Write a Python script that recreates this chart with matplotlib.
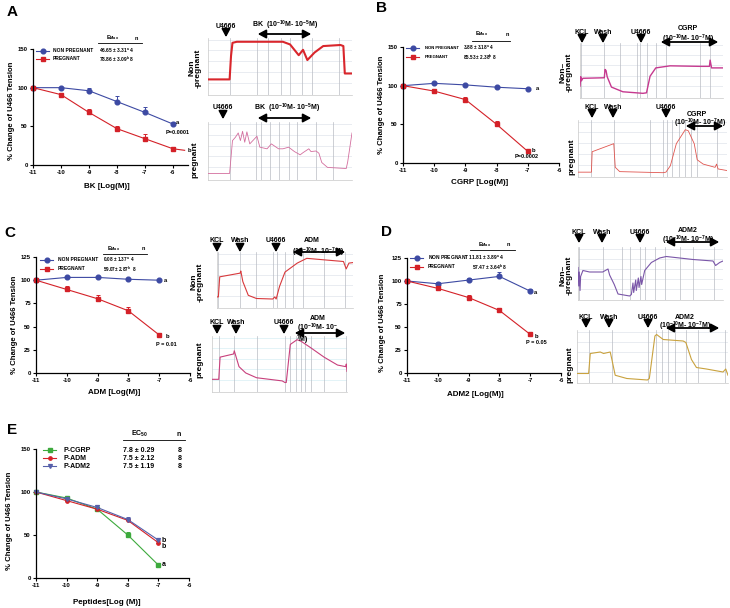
import matplotlib
matplotlib.use('Agg')
import matplotlib.pyplot as plt
from matplotlib.patches import FancyArrowPatch
from matplotlib.lines import Line2D

W, H = 730, 608
plt.rcParams['font.family'] = ['Liberation Sans', 'DejaVu Sans']
plt.rcParams['font.weight'] = 'bold'
plt.rcParams['mathtext.default'] = 'regular'
plt.rcParams['axes.unicode_minus'] = False

# ---------------- data ----------------
doses6 = [-11, -10, -9, -8, -7, -6]
doses5 = [-11, -10, -9, -8, -7]

A_np = [100, 100, 96, 82, 68, 53]
A_np_err = [0, 1, 4, 7, 7, 2]
A_p = [100, 91, 68, 47, 34, 21]
A_p_err = [0, 1, 4, 4, 6, 2]
A_p_tail_x = [-6, -5.58]
A_p_tail_y = [21, 19]

B_np = [100, 103, 101, 98, 96]
B_np_err = [0, 1, 1, 1, 1]
B_p = [100, 93, 82, 50, 15]
B_p_err = [0, 1, 3, 4, 2]

C_np = [100, 103, 103, 101, 100]
C_np_err = [0, 1, 1, 1, 1]
C_p = [100, 90, 80, 67, 41]
C_p_err = [0, 4, 4, 4, 2]

D_np = [100, 97, 101, 105, 89]
D_np_err = [0, 2, 2, 5, 2]
D_p = [100, 92, 82, 68, 42]
D_p_err = [0, 2, 3, 3, 3]

E_cgrp = [100, 93, 80, 50, 15]
E_cgrp_err = [0, 1, 2, 3, 1]
E_adm = [100, 90, 80, 67, 41]
E_adm_err = [0, 1, 2, 2, 2]
E_adm2 = [100, 92, 82, 68, 44]
E_adm2_err = [0, 1, 3, 3, 2]

emax_A = ["46.65 \u00b1 3.31$^{a}$ 4", "78.86 \u00b1 3.09$^{b}$ 8"]
emax_B = ["3.88 \u00b1 3.18$^{a}$ 4", "85.53 \u00b1 2.38$^{b}$ 8"]
emax_C = ["0.08 \u00b1 1.37$^{a}$  4", "59.07\u00b1 2.87$^{b}$  8"]
emax_D = ["11.81 \u00b1 3.89$^{a}$ 4", "57.47 \u00b1 3.64$^{b}$ 8"]
ec50_E = ["7.8 \u00b1 0.29", "7.5 \u00b1 2.12", "7.5 \u00b1 1.19"]
n_E = ["8", "8", "8"]

# recording traces (time %, tension %)
trA_np_t = [0, 15, 16, 17, 20, 52, 57, 63, 66, 69, 74, 80, 92, 94, 95, 100]
trA_np_v = [26, 26, 70, 94, 96, 96, 91, 71, 81, 62, 76, 88, 90, 88, 37, 37]
trA_p_t = [0, 15, 17, 19, 21, 22.5, 24, 25.5, 27, 29, 34, 36, 41, 44, 49, 52, 56, 60, 64, 66,
           70, 71.5, 75, 77, 79, 83, 96, 97, 100]
trA_p_v = [9, 9, 69, 75, 83, 69, 86, 66, 85, 63, 77, 57, 54, 63, 54, 54, 57, 49, 43, 47,
           54, 49, 50, 46, 29, 20, 18, 30, 83]
trB_np_t = [0, 0.5, 1, 2, 17, 17.5, 18.2, 19, 22, 30, 44, 46.5, 49, 53, 63, 84, 90.5, 91, 92, 100]
trB_np_v = [20, 38, 30, 35, 36, 52, 50, 38, 18, 9, 6, 7, 39, 55, 59, 58, 58, 70, 55, 55]
trB_p_t = [0, 9, 9.5, 24, 25, 28, 57, 59, 62, 66, 72, 74, 78, 80, 84, 92, 93, 94, 100]
trB_p_v = [6, 6, 44, 59, 15, 7, 5, 6, 18, 59, 85, 83, 59, 29, 21, 15, 21, 12, 9]
trC_np_t = [0, 1, 2, 17, 17.5, 19, 23, 29, 41, 42.5, 43.5, 46, 50, 59, 66, 93, 95, 97, 100]
trC_np_v = [18, 18, 56, 63, 67, 47, 21, 15, 14, 18, 14, 38, 65, 82, 91, 85, 71, 82, 83]
trC_p_t = [0, 5, 6, 16, 16.5, 20, 25, 33, 52, 54, 55, 58, 63, 66, 73, 83, 93, 99, 99.5, 100]
trC_p_v = [21, 21, 63, 69, 75, 45, 33, 24, 18, 15, 15, 87, 96, 93, 81, 63, 48, 45, 50, 36]
trD_np_t = [0, 0.5, 0.9, 1.4, 1.8, 3.4, 8, 17, 20.7, 21.8, 25, 27.6, 35.6, 36.8, 37.9, 38.4, 39.8,
            40.2, 41.6, 42.1, 43.4, 43.9, 46, 50.6, 56.3, 60.9, 79.3, 93.1, 94.9, 97.7, 100]
trD_np_v = [62, 25, 53, 16, 44, 56, 53, 53, 59, 47, 28, 9, 5, 8, 31, 12, 37,
            16, 41, 22, 44, 28, 56, 72, 81, 84, 78, 75, 66, 72, 75]
trD_p_t = [0, 7.7, 8.8, 15.4, 17.6, 22, 23.1, 25.3, 33, 46.6, 47.9, 51.6, 52.7, 57.1, 70.3, 72.1,
           75.8, 79.1, 85.7, 96.7, 98.5, 100]
trD_p_v = [16, 16, 56, 59, 56, 59, 44, 12.5, 6, 3, 6, 91, 94, 84, 81, 78,
           44, 28, 25, 19, 25, 12.5]

ev_A_np = [15, 34, 42, 51, 57, 65, 72, 91]
ev_A_p = [15, 33, 37, 43, 49, 56, 62, 75, 87]
ev_B_np = [1, 17, 28, 40, 42, 47, 53, 60, 84, 91]
ev_B_p = [9, 24, 48, 57, 60, 63, 68, 72, 76, 80, 93]
ev_C_np = [1, 17, 29, 41, 44, 50, 56, 63, 79, 94]
ev_C_p = [5, 16, 33, 54, 58, 62, 66, 69, 73, 83, 99]
ev_D_np = [1, 17, 30, 36, 43, 46, 53, 60, 70, 79, 94]
ev_D_p = [8, 23, 47, 52, 56, 60, 65, 72, 80, 98]

BLUE = '#3D4AA3'
RED = '#D42128'
GREEN = '#3DAA3D'
BLUE2 = '#5660AA'

fig = plt.figure(figsize=(W / 100, H / 100), dpi=100)
fig.patch.set_facecolor('white')


def P(x, y):
    return (x / W, 1 - y / H)


def T(x, y, s, size, ha='center', va='center', rot=0, **kw):
    fig.text(x / W, 1 - y / H, s, fontsize=size, ha=ha, va=va, rotation=rot,
             fontweight='bold', **kw)


def add_ax(l, t, r, b):
    return fig.add_axes([l / W, 1 - b / H, (r - l) / W, (b - t) / H])


def down_arrow(x, y1, y2):
    fig.add_artist(FancyArrowPatch(P(x, y1), P(x, y2), transform=fig.transFigure,
                                   arrowstyle='-|>,head_length=0.6,head_width=0.32',
                                   mutation_scale=8, lw=1.3, color='black'))


def dbl_arrow(x1, x2, y):
    fig.add_artist(FancyArrowPatch(P(x1, y), P(x2, y), transform=fig.transFigure,
                                   arrowstyle='<|-|>,head_length=0.6,head_width=0.32',
                                   mutation_scale=8, lw=1.3, color='black'))


def legend_row(x, y, color, marker, ms):
    fig.add_artist(Line2D([x / W, (x + 13) / W], [1 - y / H, 1 - y / H],
                          transform=fig.transFigure, color=color, lw=0.8))
    fig.add_artist(Line2D([(x + 6.5) / W], [1 - y / H], transform=fig.transFigure,
                          color=color, marker=marker, ms=ms, lw=0))


def hline(x1, x2, y):
    fig.add_artist(Line2D([x1 / W, x2 / W], [1 - y / H] * 2, transform=fig.transFigure,
                          color='k', lw=0.6))


def dose_panel(box, xlim, ylim, yticks):
    ax = add_ax(*box)
    ax.set_xlim(*xlim)
    ax.set_ylim(*ylim)
    for s in ['top', 'right']:
        ax.spines[s].set_visible(False)
    for s in ['left', 'bottom']:
        ax.spines[s].set_linewidth(0.9)
    ax.set_xticks([-11, -10, -9, -8, -7, -6])
    ax.set_yticks(yticks)
    ax.tick_params(labelsize=4.3, length=2.2, width=0.8, pad=1.5)
    for lab in ax.get_xticklabels() + ax.get_yticklabels():
        lab.set_fontweight('bold')
    ax.patch.set_alpha(0)
    return ax


def series(ax, x, y, err, color, marker, ms):
    ax.errorbar(x, y, yerr=[[0] * len(err), err], color=color, marker=marker, ms=ms,
                lw=0.8, elinewidth=0.7, capsize=1.5, capthick=0.7, clip_on=False)


def trace(box, t, v, ev, color, lw, gridcolor='#D9DDE6'):
    ax = add_ax(*box)
    ax.set_xlim(0, 100)
    ax.set_ylim(-3, 103)
    for yv in [20, 40, 60, 80, 100]:
        ax.axhline(yv, color=gridcolor, lw=0.4, zorder=0)
    for e in ev:
        ax.axvline(e, color='#B9BCC4', lw=0.5, zorder=1)
    ax.plot(t, v, color=color, lw=lw, zorder=3)
    for s in ['top', 'right']:
        ax.spines[s].set_visible(False)
    for s in ['left', 'bottom']:
        ax.spines[s].set_color('#C8C8C8')
        ax.spines[s].set_linewidth(0.5)
    ax.set_xticks([])
    ax.set_yticks([])
    ax.patch.set_alpha(0)
    return ax


LEG = 3.5

# ---------------- Panel A ----------------
T(12, 12, 'A', 11)
ax = dose_panel((33, 49, 188, 165), (-11, -5.46), (0, 150), [0, 50, 100, 150])
series(ax, doses6, A_np, A_np_err, BLUE, 'o', 3.4)
series(ax, doses6, A_p, A_p_err, RED, 's', 2.4)
ax.plot(A_p_tail_x, A_p_tail_y, color=RED, lw=0.8, clip_on=False)
T(12, 111, '% Change of U466 Tension', 5.6, rot=90)
T(107, 186, 'BK [Log(M)]', 5.8)
T(113, 38, 'E$_{Max}$', 4)
T(136, 38, 'n', 4)
hline(98, 142, 43)
legend_row(36, 51, BLUE, 'o', 3.4)
legend_row(36, 59, RED, 's', 2.4)
T(53, 51, 'NON PREGNANT', LEG, ha='left')
T(53, 59, 'PREGNANT', LEG, ha='left')
T(99, 51, emax_A[0], LEG, ha='left')
T(99, 59, emax_A[1], LEG, ha='left')
T(178, 123, 'a', 4.2)
T(178, 132, 'P=0.0001', 4)
T(188, 150, 'b', 4.2, ha='left')

trace((208, 38, 352, 95), trA_np_t, trA_np_v, ev_A_np, '#D9262C', 1.5)
trace((208, 122, 352, 180), trA_p_t, trA_p_v, ev_A_p, '#D36E9E', 0.6)
T(195, 68, 'Non\n-pregnant', 6, rot=90, linespacing=0.95)
T(195, 160, 'pregnant', 6, rot=90)
T(226, 26, 'U4666', 5)
down_arrow(226, 30, 40)
T(285, 25, 'BK  (10$^{-10}$M- 10$^{-5}$M)', 5)
dbl_arrow(255, 314, 34)
T(223, 108, 'U4666', 5)
down_arrow(223, 112, 122)
T(287, 108, 'BK  (10$^{-10}$M- 10$^{-5}$M)', 5)
dbl_arrow(255, 314, 118)

# ---------------- Panel B ----------------
T(382, 8, 'B', 11)
ax = dose_panel((403, 47, 559, 163), (-11, -6), (0, 150), [0, 50, 100, 150])
series(ax, doses5, B_np, B_np_err, BLUE, 'o', 3.4)
series(ax, doses5, B_p, B_p_err, RED, 's', 2.4)
T(382, 105, '% Change of U466 Tension', 5.6, rot=90)
T(480, 182, 'CGRP [Log(M)]', 5.8)
T(482, 34, 'E$_{Max}$', 4)
T(507, 34, 'n', 4)
hline(472, 510, 41)
legend_row(406, 48, BLUE, 'o', 3.4)
legend_row(406, 57, RED, 's', 2.4)
T(425, 48, 'NON PREGNANT', 3.1, ha='left')
T(425, 57, 'PREGNANT', 3.1, ha='left')
T(463, 48, emax_B[0], 3.3, ha='left')
T(463, 57, emax_B[1], 3.3, ha='left')
T(537, 89, 'a', 4.2)
T(533, 150, 'b', 4.2)
T(527, 157, 'P=0.0002', 4)

trace((580, 43, 723, 98), trB_np_t, trB_np_v, ev_B_np, '#C6398F', 1.0)
trace((578, 120, 727, 177), trB_p_t, trB_p_v, ev_B_p, '#E0554F', 0.6)
T(566, 72, 'Non\u2013\n-pregnant', 6, rot=90, linespacing=0.95)
T(572, 157, 'pregnant', 6, rot=90)
for x, s in [(582, 'KCL'), (603, 'Wash'), (641, 'U4666')]:
    T(x, 32, s, 5)
    down_arrow(x, 35, 46)
T(688, 29, 'CGRP', 5)
T(688, 39, '(10$^{-10}$M- 10$^{-7}$M)', 5)
dbl_arrow(658, 721, 42)
for x, s in [(592, 'KCL'), (613, 'Wash'), (666, 'U4666')]:
    T(x, 108, s, 5)
    down_arrow(x, 111, 121)
T(697, 114, 'CGRP', 5)
T(700, 123, '(10$^{-10}$M- 10$^{-7}$M)', 5)
dbl_arrow(683, 726, 126)

# ---------------- Panel C ----------------
T(10, 233, 'C', 11)
ax = dose_panel((36, 257, 190, 373), (-11, -6), (0, 125), [0, 25, 50, 75, 100, 125])
series(ax, doses5, C_np, C_np_err, BLUE, 'o', 3.4)
series(ax, doses5, C_p, C_p_err, RED, 's', 2.4)
T(15, 325, '% Change of U466 Tension', 5.6, rot=90)
T(114, 392, 'ADM [Log(M)]', 5.8)
T(114, 249, 'E$_{Max}$', 4)
T(143, 249, 'n', 4)
hline(103, 147, 254)
legend_row(40, 260, BLUE, 'o', 3.4)
legend_row(40, 269, RED, 's', 2.4)
T(58, 260, 'NON PREGNANT', LEG, ha='left')
T(58, 269, 'PREGNANT', LEG, ha='left')
T(103, 260, emax_C[0], 3.3, ha='left')
T(103, 269, emax_C[1], 3.3, ha='left')
T(166, 281, 'a', 4.2)
T(167, 337, 'b', 4.2)
T(166, 345, 'P = 0.01', 4)

trace((217, 252, 353, 308), trC_np_t, trC_np_v, ev_C_np, '#D8393C', 0.8)
trace((212, 336, 347, 392), trC_p_t, trC_p_v, ev_C_p, '#C8407C', 0.8, gridcolor='#CDEBF2')
T(197, 282, 'Non\n-pregnant', 6, rot=90, linespacing=0.95)
T(200, 360, 'pregnant', 6, rot=90)
for x, s in [(217, 'KCL'), (240, 'Wash'), (276, 'U4666')]:
    T(x, 241, s, 5)
    down_arrow(x, 244, 255)
T(312, 240, 'ADM', 5)
T(318, 252, '(10$^{-10}$M- 10$^{-7}$M)', 5)
dbl_arrow(290, 348, 252)
for x, s in [(217, 'KCL'), (236, 'Wash'), (284, 'U4666')]:
    T(x, 323, s, 5)
    down_arrow(x, 326, 337)
T(318, 319, 'ADM', 5)
T(318, 328, '(10$^{-10}$M- 10$^{-}$', 5)
T(302, 340, '$^{7}$M)', 5)
dbl_arrow(292, 348, 333)

# ---------------- Panel D ----------------
T(387, 232, 'D', 11)
ax = dose_panel((407, 258, 561, 373), (-11, -6), (0, 125), [0, 25, 50, 75, 100, 125])
series(ax, doses5, D_np, D_np_err, BLUE, 'o', 3.4)
series(ax, doses5, D_p, D_p_err, RED, 's', 2.4)
T(383, 323, '% Change of U466 Tension', 5.6, rot=90)
T(475, 394, 'ADM2 [Log(M)]', 5.8)
T(485, 245, 'E$_{Max}$', 4)
T(508, 245, 'n', 4)
hline(470, 515, 250)
legend_row(410, 258, BLUE, 'o', 3.4)
legend_row(410, 267, RED, 's', 2.4)
T(428, 258, 'NON PREGNANT ' + emax_D[0], LEG, ha='left')
T(428, 267, 'PREGNANT', LEG, ha='left')
T(472, 267, emax_D[1], LEG, ha='left')
T(536, 293, 'a', 4.2)
T(536, 336, 'b', 4.2)
T(536, 343, 'P = 0.05', 4)

trace((578, 247, 723, 300), trD_np_t, trD_np_v, ev_D_np, '#7A56A8', 0.8)
trace((577, 330, 728, 383), trD_p_t, trD_p_v, ev_D_p, '#C9A23E', 0.8)
T(566, 275, 'Non\u2013\n-pregnant', 6, rot=90, linespacing=0.95)
T(570, 365, 'pregnant', 6, rot=90)
for x, s in [(579, 'KCL'), (602, 'Wash'), (640, 'U4666')]:
    T(x, 232, s, 5)
    down_arrow(x, 235, 246)
T(688, 230, 'ADM2', 5)
T(688, 240, '(10$^{-10}$M- 10$^{-7}$M)', 5)
dbl_arrow(663, 722, 242)
for x, s in [(586, 'KCL'), (609, 'Wash'), (648, 'U4666')]:
    T(x, 317, s, 5)
    down_arrow(x, 320, 331)
T(685, 317, 'ADM2', 5)
T(685, 326, '(10$^{-10}$M- 10$^{-7}$M)', 5)
dbl_arrow(663, 722, 328)

# ---------------- Panel E ----------------
T(12, 430, 'E', 11)
ax = dose_panel((36, 449, 189, 578), (-11, -6), (0, 150), [0, 50, 100, 150])
series(ax, doses5, E_cgrp, E_cgrp_err, GREEN, 's', 2.6)
series(ax, doses5, E_adm, E_adm_err, RED, 'o', 2.4)
series(ax, doses5, E_adm2, E_adm2_err, BLUE2, 'v', 2.8)
T(10, 521, '% Change of U466 Tension', 5.6, rot=90)
T(107, 602, 'Peptides[Log (M)]', 5.8)
T(140, 434, 'EC$_{50}$', 5)
T(179, 434, 'n', 5)
hline(123, 185, 440)
legend_row(43, 450, GREEN, 's', 2.6)
legend_row(43, 458, RED, 'o', 2.4)
legend_row(43, 466, BLUE2, 'v', 2.8)
for i, (lab, y) in enumerate([('P-CGRP', 450), ('P-ADM', 458), ('P-ADM2', 466)]):
    T(64, y, lab, 5, ha='left')
    T(123, y, ec50_E[i], 5, ha='left')
    T(180, y, n_E[i], 5)
T(164, 540, 'b', 5)
T(164, 547, 'b', 5)
T(164, 565, 'a', 5)

fig.savefig('out.png', dpi=100, facecolor='white')
